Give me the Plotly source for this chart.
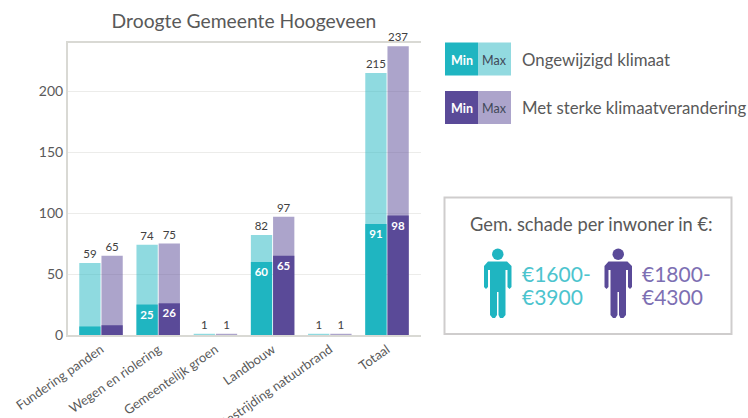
import plotly.graph_objects as go

categories = ["Fundering panden", "Wegen en riolering", "Gemeentelijk groen",
              "Landbouw", "Bestrijding natuurbrand", "Totaal"]
teal_max = [59, 74, 1, 82, 1, 215]
teal_min = [7, 25, 0, 60, 0, 91]
purple_max = [65, 75, 1, 97, 1, 237]
purple_min = [8, 26, 0, 65, 0, 98]
teal_min_labels = ["", "25", "", "60", "", "91"]
purple_min_labels = ["", "26", "", "65", "", "98"]
y_ticks = [0, 50, 100, 150, 200]

TEAL = "#1FB5C1"
TEAL_L = "rgba(31,181,193,0.5)"
PURPLE = "#5A4A98"
PURPLE_L = "rgba(90,74,152,0.5)"
TEXT = "#595959"
FONT = "Lato"
W, H = 748, 418
L, R, T, B = 68, 421, 43, 335


def px(x):
    return (x - L) / (R - L)


def py(y):
    return (B - y) / (B - T)


fig = go.Figure()
series = [
    (teal_max, TEAL_L, -0.38, [str(v) for v in teal_max], "outside", "#404040"),
    (purple_max, PURPLE_L, 0.008, [str(v) for v in purple_max], "outside", "#404040"),
    (teal_min, TEAL, -0.38, teal_min_labels, "inside", "white"),
    (purple_min, PURPLE, 0.008, purple_min_labels, "inside", "white"),
]
for vals, col, off, txt, pos, tc in series:
    fig.add_trace(go.Bar(
        x=categories, y=vals, width=0.372, offset=off,
        marker=dict(color=col, line=dict(width=0)),
        text=txt, textposition=pos, textangle=0, insidetextanchor="end",
        constraintext="none", cliponaxis=False,
        textfont=dict(family=FONT, size=11.5, color=tc,
                      weight="bold" if pos == "inside" else "normal"),
        showlegend=False,
    ))

shapes, annos = [], []


def rect(x0, y0, x1, y1, fill, line=None, lw=0):
    shapes.append(dict(type="rect", xref="paper", yref="paper",
                       x0=px(x0), x1=px(x1), y0=py(y0), y1=py(y1),
                       fillcolor=fill, line=dict(color=line or fill, width=lw),
                       layer="above"))


def text(x, y, s, size, color, anchor="left", weight="normal"):
    annos.append(dict(xref="paper", yref="paper", x=px(x), y=py(y), text=s,
                      showarrow=False, xanchor=anchor, yanchor="middle",
                      xshift=-1 if anchor == "left" else 0,
                      font=dict(family=FONT, size=size, color=color, weight=weight)))


# Legend
for y0, dark, light, label in [(42.5, TEAL, "#92DAE0", "Ongewijzigd klimaat"),
                               (91, PURPLE, "#ACA4CB", "Met sterke klimaatverandering")]:
    rect(445, y0, 478, y0 + 33, dark)
    rect(478, y0, 511, y0 + 33, light)
    text(461.5, y0 + 17.5, "Min", 12.5, "white", "center", "bold")
    text(494.5, y0 + 17.5, "Max", 12.5, "#404858", "center")
    text(521, y0 + 16.5, label, 16.8, TEXT)

# Info box
rect(444.5, 197.5, 731.5, 334, "white", "#CFCDCD", 2)
text(591.5, 223.5, "Gem. schade per inwoner in €:", 18.3, TEXT, "center")


def person(dx, color):
    shapes.append(dict(type="circle", xref="paper", yref="paper",
                       x0=px(492 + dx), x1=px(503.5 + dx), y0=py(248.5), y1=py(260),
                       fillcolor=color, line=dict(width=0), layer="above"))
    pts = [(488, 261.5), (507, 261.5), (511.5, 266), (511.5, 287), (509.5, 289),
           (507.5, 287), (507.5, 270), (505.5, 270), (505.5, 315), (503, 318),
           (500, 318), (498.5, 315), (498.5, 292), (497, 292), (497, 315),
           (495, 318), (492.5, 318), (490, 315), (490, 270), (488, 270),
           (488, 287), (486, 289), (484, 287), (484, 266)]
    path = "M " + " L ".join(f"{px(a + dx):.5f},{py(b):.5f}" for a, b in pts) + " Z"
    shapes.append(dict(type="path", xref="paper", yref="paper", path=path,
                       fillcolor=color, line=dict(width=0), layer="above"))


person(0, TEAL)
person(120.5, PURPLE)
text(520.5, 273, "€1600-", 21, "#4CC4CE")
text(520.5, 296, "€3900", 21, "#4CC4CE")
text(641, 273, "€1800-", 21, "#7D6FB3")
text(641, 296, "€4300", 21, "#7D6FB3")

fig.update_layout(
    width=W, height=H, barmode="overlay",
    paper_bgcolor="white", plot_bgcolor="white",
    margin=dict(l=L, r=W - R, t=T, b=H - B, autoexpand=False),
    font=dict(family=FONT, color=TEXT),
    title=dict(text="Droogte Gemeente Hoogeveen", x=244 / W, xanchor="center",
               y=1 - 21 / H, yanchor="middle",
               font=dict(family=FONT, size=19.3, color=TEXT)),
    shapes=shapes, annotations=annos,
    xaxis=dict(range=[-0.577, 5.594], tickangle=-35, showgrid=False,
               tickfont=dict(family=FONT, size=13, color=TEXT),
               showline=True, mirror=True, linecolor="#D9D9D4", linewidth=2,
               ticks="", automargin=False),
    yaxis=dict(range=[0, 239.6], tickvals=y_ticks, gridcolor="#ECECEA", gridwidth=1,
               tickfont=dict(family=FONT, size=14, color=TEXT),
               showline=True, linecolor="#D9D9D4", linewidth=2, zeroline=False,
               ticks="", automargin=False),
)

fig.write_html("out.html", config={"displayModeBar": False},
               post_script="document.body.style.margin='0';document.body.style.overflow='hidden';")
